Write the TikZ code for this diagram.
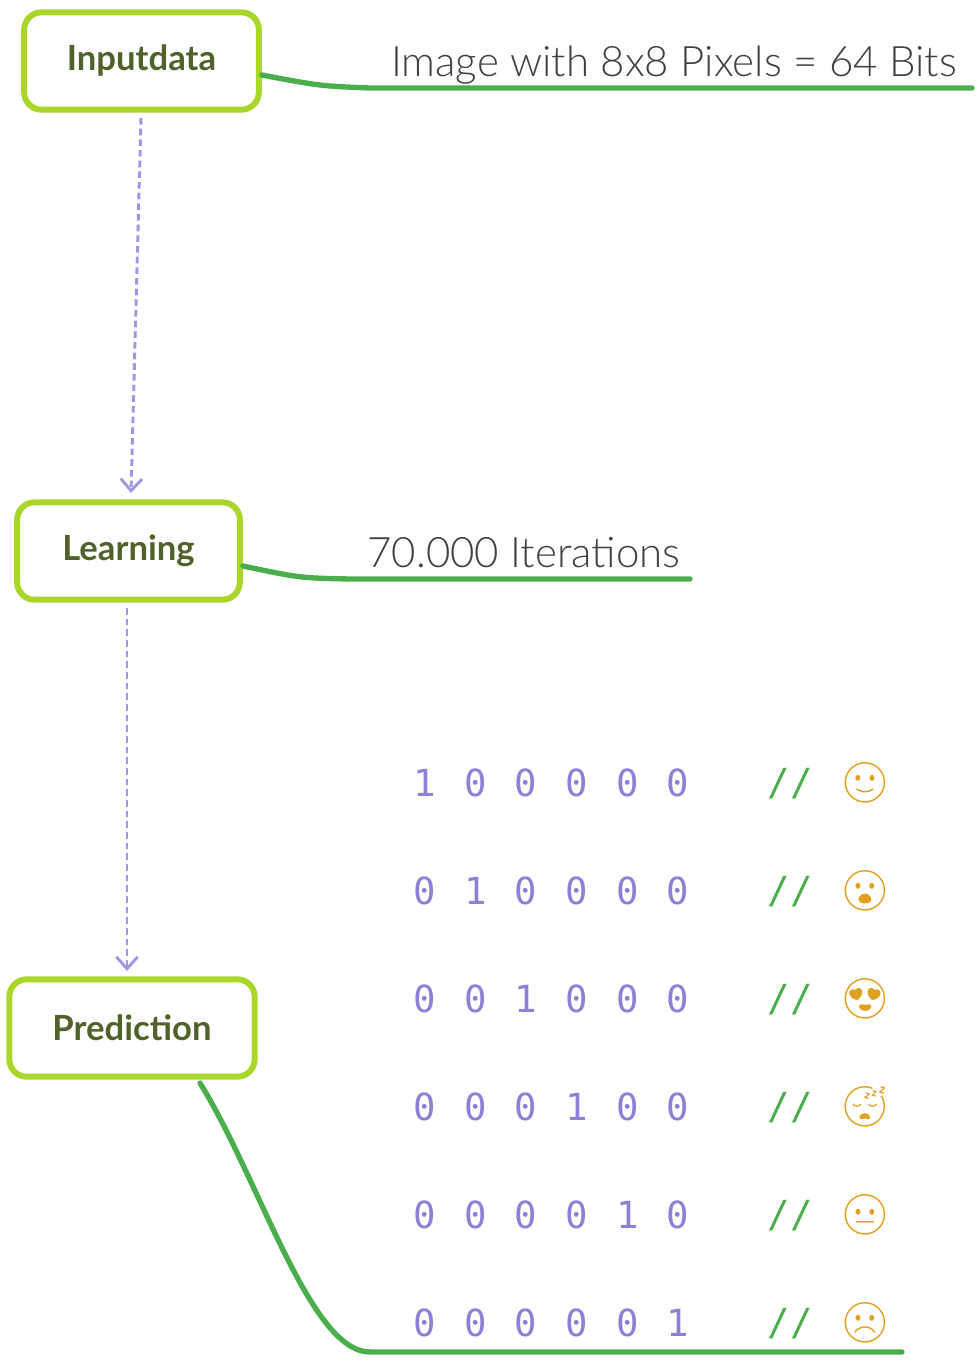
\documentclass[tikz,border=0pt]{standalone}
\usepackage{fontspec}
\setmainfont{Lato}
\newfontfamily\lightfont{Lato Light}
\newfontfamily\codefont{DejaVu Sans Mono}
\newfontfamily\emojifont{Noto Emoji}
\usetikzlibrary{arrows.meta}
\definecolor{lime}{HTML}{AAD52B}
\definecolor{olive}{HTML}{4F6229}
\definecolor{gline}{HTML}{4AAE4C}
\definecolor{lav}{HTML}{9C98E6}
\definecolor{purp}{HTML}{8E80D6}
\definecolor{emo}{HTML}{E0A020}
\begin{document}
\begin{tikzpicture}[x=0.75pt,y=-0.75pt,
 box/.style={draw=lime,line width=4.5pt,rounded corners=13pt,text=olive,font=\fontsize{26}{30}\selectfont\bfseries,inner sep=0pt},
 gl/.style={draw=gline,line width=4pt,line cap=round},
 da/.style={draw=lav,line width=2.2pt,dash pattern=on 5pt off 3pt,-{Straight Barb[length=9pt,width=16pt,line width=2.2pt]}},
 lab/.style={text=black!75,font=\lightfont\fontsize{31.5}{36}\selectfont,inner sep=0pt},
 dig/.style={text=purp,font=\codefont\fontsize{28}{32}\selectfont,inner sep=0pt},
 sl/.style={text=gline,font=\codefont\fontsize{28}{32}\selectfont,inner sep=0pt},
 em/.style={text=emo,font=\emojifont\fontsize{30}{34}\selectfont,inner sep=0pt}]
\useasboundingbox (0,0) rectangle (980,1362);
\node[box,minimum width=176pt,minimum height=73pt] (in) at (141.5,61) {Inputdata};
\node[box,minimum width=167pt,minimum height=73pt] (le) at (128.5,551) {Learning};
\node[box,minimum width=184pt,minimum height=73pt] (pr) at (132,1028) {Prediction};
\coordinate (a1) at (370,88); \coordinate (a2) at (972,88);
\draw[gl] (in.east|-0,75) .. controls (320,86) .. (a1) -- (a2);
\node[lab,anchor=base east] (t1) at (957,77) {Image with 8x8 Pixels = 64 Bits};
\coordinate (b1) at (350,579); \coordinate (b2) at (690,579);
\draw[gl] (le.east|-0,566) .. controls (300,578) .. (b1) -- (b2);
\node[lab,anchor=base] (t2) at (524,567) {70.000 Iterations};
\coordinate (c1) at (370,1352); \coordinate (c2) at (902,1352);
\draw[gl] (200,1083) .. controls (260,1180) and (310,1352) .. (c1) -- (c2);
\coordinate (i0) at (141,118); \coordinate (i1) at (131,493);
\coordinate (l0) at (127,608); \coordinate (l1) at (127,971);
\draw[da] (i0) -- (i1);
\draw[da] (l0) -- (l1);
\foreach \e [count=\i from 0] in {🙂,😮,😍,😴,😐,☹} {
  \pgfmathsetmacro\yy{783+108*\i}
  \foreach \j in {0,...,5} {
    \pgfmathsetmacro\xx{425+50.6*\j}
    \pgfmathtruncatemacro\dd{\i==\j ? 1 : 0}
    \node[dig] (d\i\j) at (\xx,\yy) {\dd};
  }
  \node[sl] (s\i) at (790,\yy+1) {//};
  \node[em] (e\i) at (865,\yy) {\e};
}
\end{tikzpicture}
\end{document}
